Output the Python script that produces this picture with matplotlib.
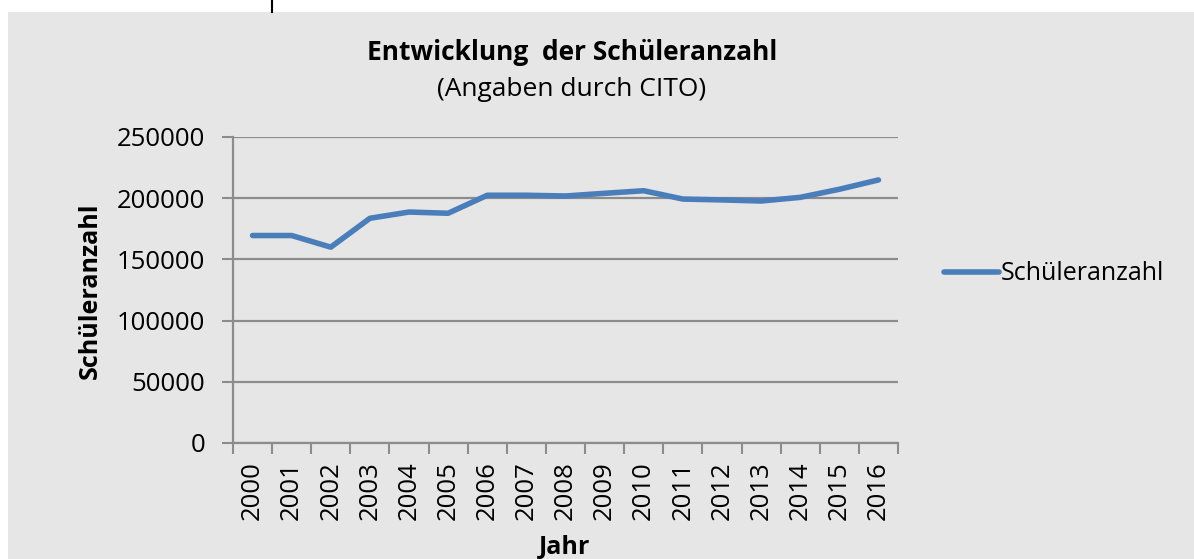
import numpy as np
import matplotlib.pyplot as plt
from matplotlib.patches import Rectangle
from matplotlib.lines import Line2D

jahre = [str(j) for j in range(2000, 2017)]
schueler = [169500, 169500, 160000, 183600, 188700, 187700, 202400, 202400,
            201800, 204000, 206100, 199300, 198600, 197700, 200700, 207300, 214900]
y_ticks = [0, 50000, 100000, 150000, 200000, 250000]

plt.rcParams['font.family'] = ['Open Sans', 'DejaVu Sans']

bg = '#e6e6e6'
grid_c = '#8c8c8c'
blue = '#4a7ebb'

W, H = 1194, 559
fig = plt.figure(figsize=(W / 100, H / 100), dpi=100)
fig.patch.set_facecolor('white')
fig.patches.append(Rectangle((8 / W, 0), 1 - 8 / W, 1 - 12 / H, transform=fig.transFigure,
                             facecolor=bg, edgecolor='none', zorder=-10))
fig.lines.append(Line2D([272 / W, 272 / W], [1 - 12 / H, 1], transform=fig.transFigure,
                        color='black', lw=1.5))

ax = fig.add_axes([233 / W, 1 - 443 / H, (898 - 233) / W, (443 - 137) / H])
ax.set_facecolor(bg)

x = np.arange(len(jahre))
ax.plot(x, schueler, color=blue, lw=4, solid_capstyle='round', label='Schüleranzahl', zorder=3)

ax.set_xlim(-0.5, len(jahre) - 0.5)
ax.set_ylim(0, 250000)
ax.set_yticks(y_ticks)
ax.set_yticklabels([str(v) for v in y_ticks])
ax.yaxis.grid(True, color=grid_c, lw=1.6)
ax.set_axisbelow(True)

ax.set_xticks(x)
ax.set_xticklabels(jahre, rotation=90, va='top')
ax.set_xticks(np.arange(len(jahre) + 1) - 0.5, minor=True)
ax.tick_params(axis='x', which='major', length=0, pad=13, labelsize=18.5)
ax.tick_params(axis='x', which='minor', length=8, width=1.5, color=grid_c, direction='out')
ax.tick_params(axis='y', length=8, width=1.5, color=grid_c, pad=12, labelsize=18.5)

for s in ['top', 'right']:
    ax.spines[s].set_visible(False)
for s in ['left', 'bottom']:
    ax.spines[s].set_color(grid_c)
    ax.spines[s].set_linewidth(1.6)

fig.text(572 / W, 1 - 53 / H, 'Entwicklung  der Schüleranzahl', ha='center', va='center',
         fontsize=19, fontweight='bold')
fig.text(572 / W, 1 - 90 / H, '(Angaben durch CITO)', ha='center', va='center', fontsize=19)
fig.text(90 / W, 1 - 291 / H, 'Schüleranzahl', rotation=90, ha='center', va='center',
         fontsize=18, fontweight='bold')
fig.text(565 / W, 1 - 547 / H, 'Jahr', ha='center', va='center', fontsize=18, fontweight='bold')

ax.legend(loc='center left', bbox_to_anchor=(921 / W, 1 - 274 / H), bbox_transform=fig.transFigure,
          frameon=False, fontsize=18, handlelength=2.2, handletextpad=0.1)

fig.savefig('out.png', dpi=100, facecolor=fig.get_facecolor())
